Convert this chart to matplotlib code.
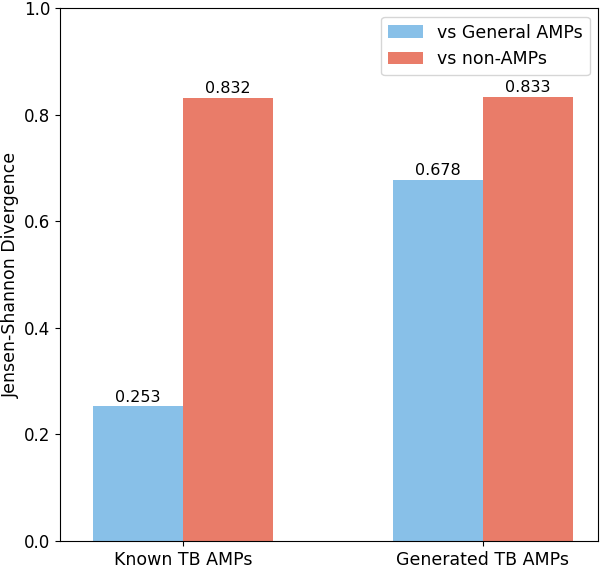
import numpy as np
import matplotlib.pyplot as plt

groups = ['Known TB AMPs', 'Generated TB AMPs']
vs_general = [0.253, 0.678]
vs_nonamp = [0.832, 0.833]

fig = plt.figure(figsize=(6, 5.69), dpi=100)
ax = fig.add_axes([0.10, 0.049, 0.897, 0.937])

x = np.arange(len(groups))
w = 0.3
b1 = ax.bar(x - w/2, vs_general, w, color='#88C0E8', label='vs General AMPs')
b2 = ax.bar(x + w/2, vs_nonamp, w, color='#E97C69', label='vs non-AMPs')

for bars in (b1, b2):
    for b in bars:
        ax.text(b.get_x() + b.get_width()/2, b.get_height() + 0.003,
                '%.3f' % b.get_height(), ha='center', va='bottom', fontsize=11.5)

ax.set_xticks(x)
ax.set_xticklabels(groups, fontsize=12.5)
ax.tick_params(axis='y', labelsize=12)
ax.set_ylim(0, 1.0)
ax.set_xlim(-0.41, 1.385)
ax.set_ylabel('Jensen-Shannon Divergence', fontsize=12.5)
ax.yaxis.set_label_coords(-0.075, 0.5)
ax.legend(loc='upper right', fontsize=12.5)

fig.savefig('out.png', dpi=100)
